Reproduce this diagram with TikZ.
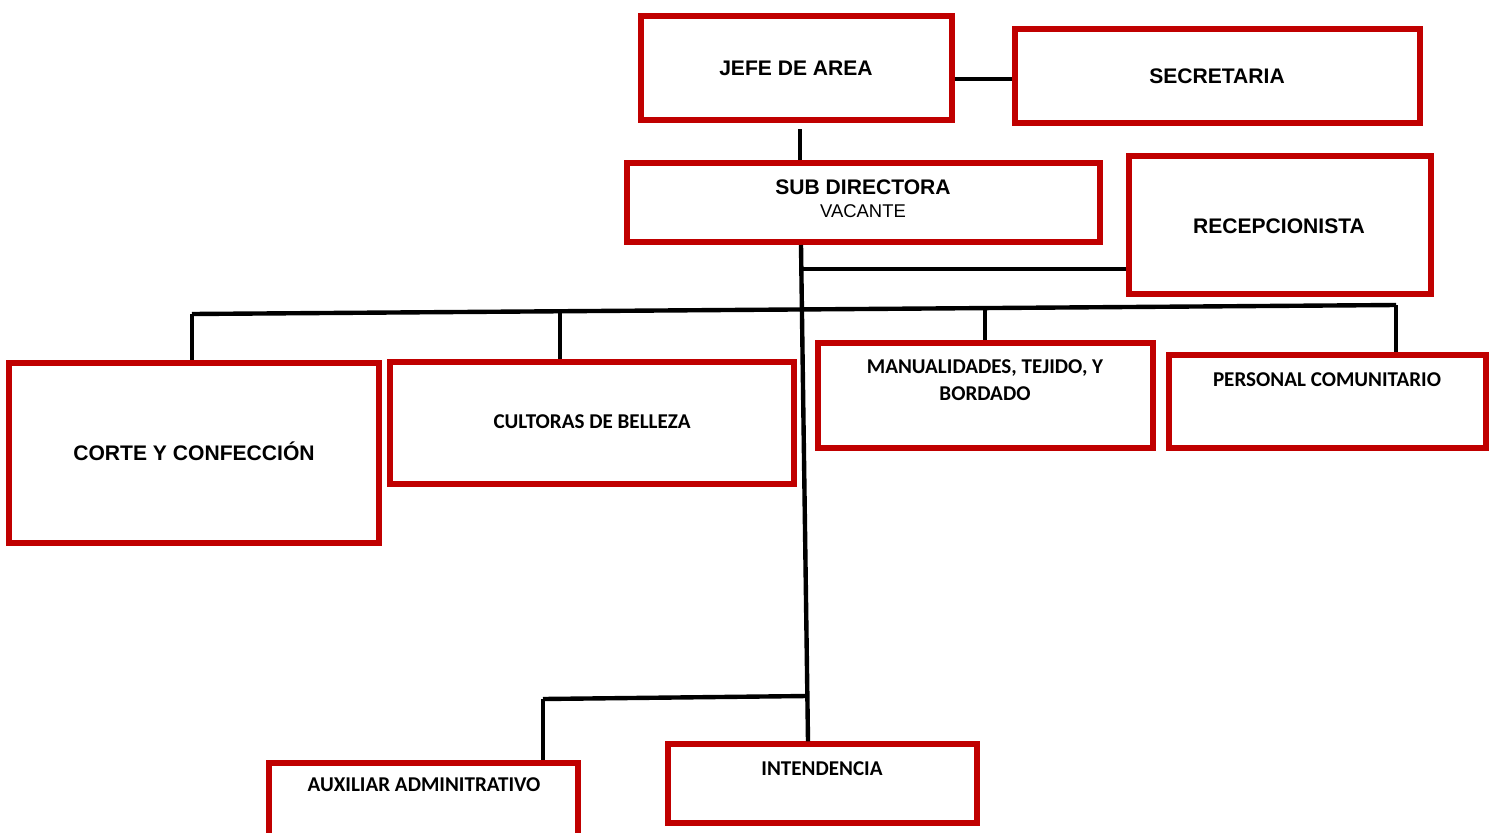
\documentclass[tikz,border=0pt]{standalone}
\usepackage{fontspec}
\setmainfont{Liberation Sans}
\newfontfamily\calib{Carlito}
\definecolor{boxred}{HTML}{C00000}
\begin{document}
\begin{tikzpicture}[x=0.02cm,y=-0.02cm,
  box/.style={draw=boxred,line width=3pt,rectangle,inner sep=0pt,fill=white},
  arialtxt/.style={inner sep=0pt,anchor=center,font=\fontsize{12}{14}\selectfont\bfseries},
  calibtxt/.style={inner sep=0pt,anchor=center,font=\fontsize{12}{14}\selectfont\calib\bfseries,align=center},
  conn/.style={draw=black,line width=2.5pt}]
\useasboundingbox (0,0) rectangle (1494,832);
\clip (0,0) rectangle (1494,832);
% boxes
\node[box,minimum width=6.22cm,minimum height=2.08cm] (jefe) at (796.5,68) {};
\node[box,minimum width=8.10cm,minimum height=1.88cm] (sec) at (1217.5,76) {};
\node[box,minimum width=9.46cm,minimum height=1.58cm] (sub) at (863.5,202.5) {};
\node[box,minimum width=6.04cm,minimum height=2.76cm] (recep) at (1280,225) {};
\node[box,minimum width=7.40cm,minimum height=3.60cm] (corte) at (194,453) {};
\node[box,minimum width=8.08cm,minimum height=2.44cm] (cult) at (592,423) {};
\node[box,minimum width=6.70cm,minimum height=2.10cm] (manu) at (985.5,395.5) {};
\node[box,minimum width=6.34cm,minimum height=1.86cm] (pers) at (1327.5,401.5) {};
\node[box,minimum width=6.18cm,minimum height=1.94cm] (aux) at (423.5,811.5) {};
\node[box,minimum width=6.18cm,minimum height=1.58cm] (int) at (822.5,783.5) {};
% texts
\node[arialtxt] (tjefe) at (796,68) {JEFE DE AREA};
\node[arialtxt] (tsec) at (1217,76) {SECRETARIA};
\node[arialtxt] (tsub) at (863,187) {SUB DIRECTORA};
\node[inner sep=0pt,font=\fontsize{10.5}{12}\selectfont] (tvac) at (863,211) {VACANTE};
\node[arialtxt] (trecep) at (1279,226) {RECEPCIONISTA};
\node[arialtxt] (tcorte) at (194,451) {CORTE Y CONFECCIÓN};
\node[calibtxt] (tcult) at (592,422) {CULTORAS DE BELLEZA};
\node[calibtxt] (tmanu1) at (985,368) {MANUALIDADES, TEJIDO, Y};
\node[calibtxt] (tmanu2) at (985,394) {BORDADO};
\node[calibtxt] (tpers) at (1327,380) {PERSONAL COMUNITARIO};
\node[calibtxt] (taux) at (424,785) {AUXILIAR ADMINITRATIVO};
\node[calibtxt] (tint) at (822,769) {INTENDENCIA};
% junction coordinates
\coordinate (j1) at (800,129);
\coordinate (s1) at (801,245);
\coordinate (r1) at (802,269);
\coordinate (bl) at (192,314);
\coordinate (br) at (1396,305);
\coordinate (b2) at (560,311.3);
\coordinate (b3) at (985,308.1);
\coordinate (lb) at (807,696);
\coordinate (la) at (543,699);
% connectors
\draw[conn] (jefe.east |- 0,79) -- (sec.west |- 0,79);
\draw[conn] (j1) -- (sub.north -| j1);
\draw[conn] (s1) -- (int.north -| 808,0);
\draw[conn] (r1) -- (recep.west |- r1);
\draw[conn] (bl) -- (br);
\draw[conn] (bl) -- (corte.north -| bl);
\draw[conn] (b2) -- (cult.north -| b2);
\draw[conn] (b3) -- (manu.north -| b3);
\draw[conn] (br) -- (pers.north -| br);
\draw[conn] (la) -- (lb);
\draw[conn] (la) -- (aux.north -| la);
\end{tikzpicture}
\end{document}
